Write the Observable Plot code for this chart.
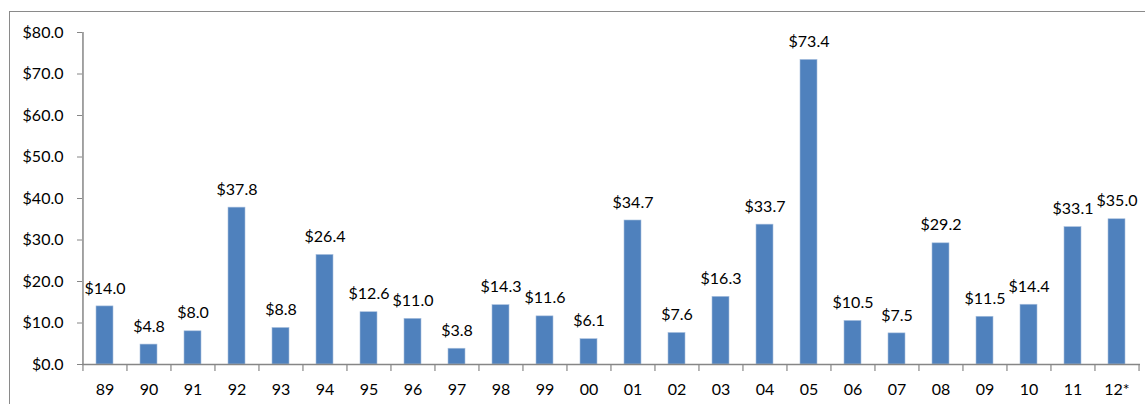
<!DOCTYPE html>
<html>
<head>
<meta charset="utf-8">
<script src="https://cdn.jsdelivr.net/npm/d3@7"></script>
<script src="https://cdn.jsdelivr.net/npm/@observablehq/plot@0.6"></script>
<style>
  html, body { margin: 0; padding: 0; background: #fff; overflow: hidden; }
  #wrap { position: relative; width: 1145px; height: 404px; }
  #frame { position: absolute; left: 9px; top: 11px; width: 1300px; height: 600px;
           border-left: 1.5px solid #8a8a8a; border-top: 1.5px solid #8a8a8a; pointer-events: none; }
  svg g[aria-label^="y-axis"] line,
  svg g[aria-label="y-axis tick"] path,
  svg g[aria-label="y-axis tick"] { stroke: #868686; }
</style>
</head>
<body>
<div id="wrap"><div id="frame"></div></div>
<script>
const categories = ["89","90","91","92","93","94","95","96","97","98","99","00","01","02","03","04","05","06","07","08","09","10","11","12*"];
const values = [14.0, 4.8, 8.0, 37.8, 8.8, 26.4, 12.6, 11.0, 3.8, 14.3, 11.6, 6.1, 34.7, 7.6, 16.3, 33.7, 73.4, 10.5, 7.5, 29.2, 11.5, 14.4, 33.1, 35.0];
const yTicks = [0, 10, 20, 30, 40, 50, 60, 70, 80];

const data = categories.map((c, i) => ({year: c, value: values[i]}));

const W = 1145, H = 404, ML = 82, MR = 5, MT = 32, MB = 40;
const step = (W - ML - MR) / categories.length;
const axisColor = "#868686";

const chart = Plot.plot({
  width: W, height: H,
  marginLeft: ML, marginRight: MR, marginTop: MT, marginBottom: MB,
  style: {fontFamily: "Lato, 'Open Sans', sans-serif", fontSize: "16px", color: "#000", background: "transparent"},
  x: {domain: categories, paddingInner: 0.61, paddingOuter: 0.305, label: null, tickSize: 0, tickPadding: 19},
  y: {domain: [0, 80], ticks: yTicks, tickFormat: d => "$" + d.toFixed(1), label: null, tickSize: 5, tickPadding: 14},
  marks: [
    Plot.barY(data, {x: "year", y: "value", fill: "#4F81BD", stroke: "#a9c0de", strokeWidth: 0.6}),
    Plot.ruleY([0], {stroke: axisColor, strokeWidth: 1.5}),
    Plot.ruleX([categories[0]], {dx: -step / 2, stroke: axisColor, strokeWidth: 1.5}),
    Plot.ruleX(categories, {x: d => d, y1: 0, y2: 0, dx: -step / 2, insetBottom: -7, stroke: axisColor, strokeWidth: 1.2}),
    Plot.ruleX([categories[categories.length - 1]], {x: d => d, y1: 0, y2: 0, dx: step / 2, insetBottom: -7, stroke: axisColor, strokeWidth: 1.2}),
    Plot.text(data, {x: "year", y: "value", text: d => "$" + d.value.toFixed(1), dy: -18, lineAnchor: "middle", fontSize: 16, fill: "#000"})
  ]
});
document.getElementById("wrap").prepend(chart);
</script>
</body>
</html>
